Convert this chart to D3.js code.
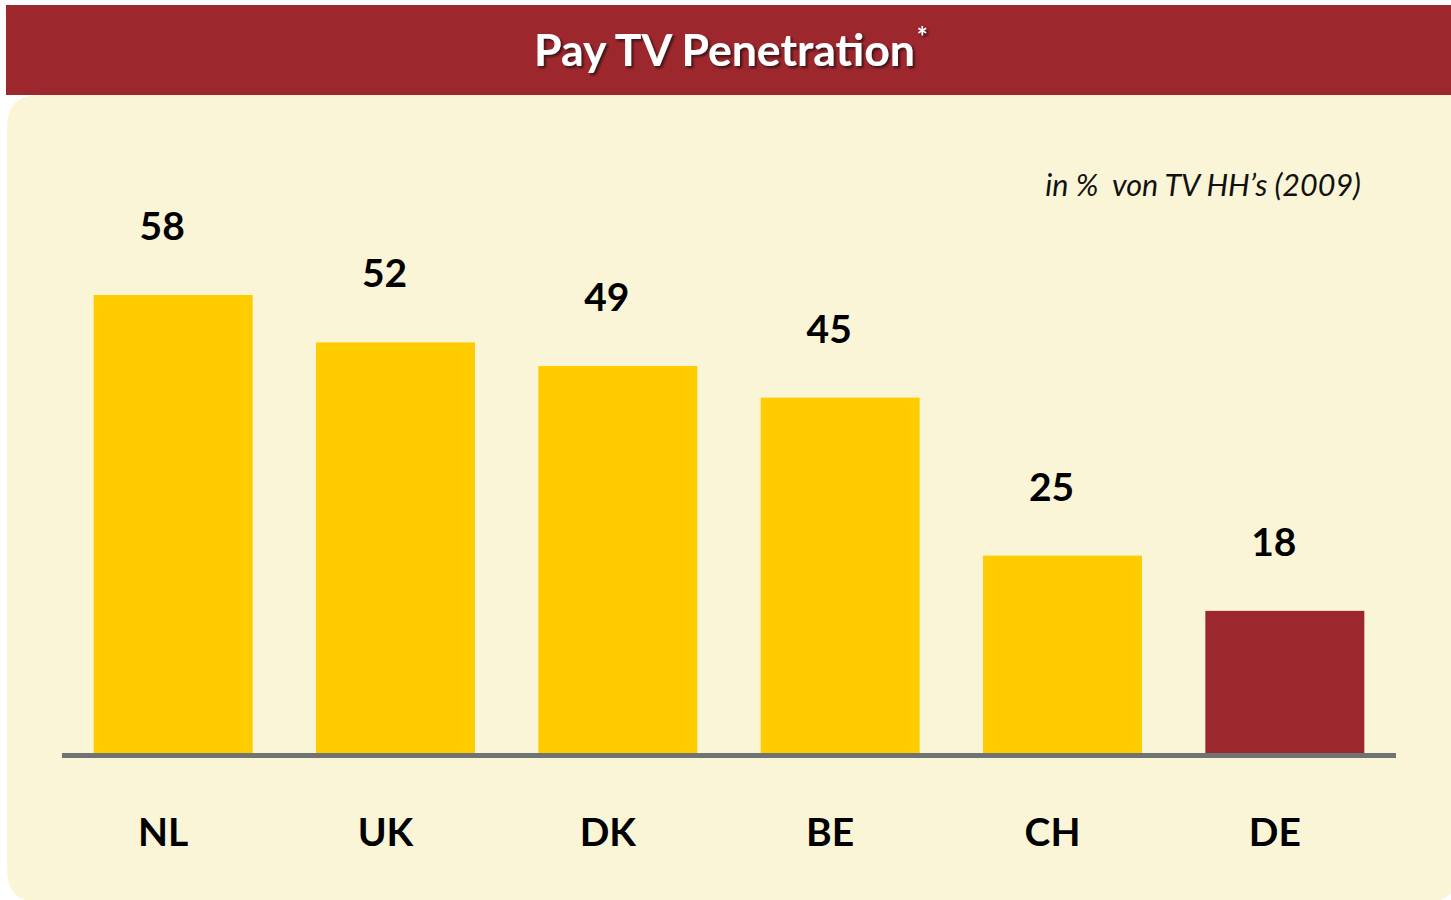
<!DOCTYPE html>
<html>
<head>
<meta charset="utf-8">
<script src="https://cdn.jsdelivr.net/npm/d3@7"></script>
<style>
  html, body { margin: 0; padding: 0; background: #ffffff; }
  svg { display: block; }
  text { font-family: Lato, "Open Sans", sans-serif; }
</style>
</head>
<body>
<svg id="chart" width="1451" height="900"></svg>
<script>
const categories = ["NL", "UK", "DK", "BE", "CH", "DE"];
const values = [58, 52, 49, 45, 25, 18];
const highlight = ["DE"];
const title = "Pay TV Penetration";
const subtitle = "in %  von TV HH\u2019s (2009)";

const W = 1451, H = 900;
const RED = "#9C272D", YELLOW = "#FFCC00", CREAM = "#FBF5D7", AXIS = "#6F7372";

const svg = d3.select("#chart");

const defs = svg.append("defs");
const f = defs.append("filter").attr("id", "shadow").attr("x", "-10%").attr("y", "-30%").attr("width", "130%").attr("height", "160%");
f.append("feDropShadow").attr("dx", 2).attr("dy", 2).attr("stdDeviation", 0.8).attr("flood-color", "#2a0a0a").attr("flood-opacity", 0.85);

// cream panel with rounded corners
const px0 = 7, py0 = 95, px1 = 1458, py1 = 902, r = 32;
svg.append("path")
  .attr("d", `M${px0 + r},${py0} L${px1},${py0} L${px1},${py1 - r} Q${px1},${py1} ${px1 - r},${py1} L${px0 + r},${py1} Q${px0},${py1} ${px0},${py1 - r} L${px0},${py0 + r} Q${px0},${py0} ${px0 + r},${py0} Z`)
  .attr("fill", CREAM);

// header band
svg.append("rect").attr("x", 6).attr("y", 5).attr("width", W - 6).attr("height", 90).attr("fill", RED);

const t = svg.append("text")
  .attr("x", 731).attr("y", 66)
  .attr("text-anchor", "middle")
  .attr("fill", "#ffffff")
  .attr("font-weight", 700)
  .attr("font-size", 44.5)
  .attr("filter", "url(#shadow)");
t.append("tspan").text(title);
t.append("tspan").attr("font-size", 26).attr("dx", 2).attr("dy", -20).text("*");

// subtitle
svg.append("text")
  .attr("x", 1361).attr("y", 196)
  .attr("text-anchor", "end")
  .attr("font-style", "italic")
  .attr("font-size", 30.5)
  .attr("fill", "#111")
  .attr("xml:space", "preserve")
  .text(subtitle);

// scales
const x = d3.scaleBand().domain(categories).range([62, 1396]).paddingInner(0.285).paddingOuter(0.1425);
const y = d3.scaleLinear().domain([0, 58]).range([753, 295]);

svg.append("g").selectAll("rect").data(categories).join("rect")
  .attr("x", d => x(d))
  .attr("y", (d, i) => y(values[i]))
  .attr("width", x.bandwidth())
  .attr("height", (d, i) => y(0) - y(values[i]))
  .attr("fill", d => highlight.includes(d) ? RED : YELLOW);

// baseline axis
const axis = svg.append("g").attr("transform", `translate(0,${y(0) + 2.5})`)
  .call(d3.axisBottom(x).tickSize(0).tickPadding(63));
axis.select(".domain").attr("stroke", AXIS).attr("stroke-width", 5).attr("d", "M62,0H1396");
axis.selectAll(".tick text")
  .attr("font-family", "Lato, 'Open Sans', sans-serif")
  .attr("font-size", 39).attr("font-weight", 700).attr("fill", "#000")
  .attr("dx", -10);

// value labels
svg.append("g").selectAll("text").data(categories).join("text")
  .attr("x", d => x(d) + x.bandwidth() / 2 - 11)
  .attr("y", (d, i) => y(values[i]) - 55)
  .attr("text-anchor", "middle")
  .attr("font-size", 39).attr("font-weight", 700).attr("fill", "#000")
  .text((d, i) => values[i]);
</script>
</body>
</html>
